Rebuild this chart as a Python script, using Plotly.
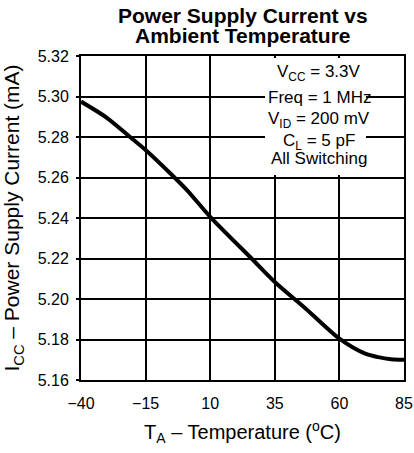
import plotly.graph_objects as go

# Data
temperature_c = [-40, -30, -21, -15, -5, 1, 10, 26, 35, 47, 60, 70, 75, 80, 85]
supply_current_ma = [5.2975, 5.2895, 5.2800, 5.2736, 5.2615, 5.2538, 5.2406, 5.2200,
                     5.2084, 5.1952, 5.1804, 5.1730, 5.1713, 5.1703, 5.1700]

x_ticks = [-40, -15, 10, 35, 60, 85]
y_ticks = [5.16, 5.18, 5.20, 5.22, 5.24, 5.26, 5.28, 5.30, 5.32]

title_lines = ["Power Supply Current vs", "Ambient Temperature"]
cond_lines = ["V<sub>CC</sub> = 3.3V", "Freq = 1 MHz", "V<sub>ID</sub> = 200 mV",
              "C<sub>L</sub> = 5 pF", "All Switching"]

FONT = "Liberation Sans, Arial, sans-serif"

fig = go.Figure()
fig.add_trace(go.Scatter(
    x=temperature_c, y=supply_current_ma, mode="lines",
    line=dict(color="black", width=4, shape="spline", smoothing=0.8),
    hoverinfo="skip", showlegend=False))

W, H = 414, 453
ml, mr, mt, mb = 81, 10, 56, 73
ph = H - mt - mb
pw = W - ml - mr

def py(pix):
    return (H - mb - pix) / ph

def px(pix):
    return (pix - ml) / pw

annotations = []
for txt, yp in zip(title_lines, [16, 35.5]):
    annotations.append(dict(text="<b>%s</b>" % txt, x=0.5, y=py(yp), xref="paper", yref="paper",
                            showarrow=False, xanchor="center", yanchor="middle",
                            font=dict(family=FONT, size=21, color="black")))
for txt, yp in zip(cond_lines, [73, 97.5, 120, 142, 158.5]):
    annotations.append(dict(text=txt, x=px(319), y=py(yp), xref="paper", yref="paper",
                            showarrow=False, xanchor="center", yanchor="middle",
                            font=dict(family=FONT, size=17, color="black")))

fig.update_layout(
    width=W, height=H,
    margin=dict(l=ml, r=mr, t=mt, b=mb, pad=0, autoexpand=False),
    paper_bgcolor="white", plot_bgcolor="white",
    annotations=annotations,
    shapes=[dict(type="rect", xref="paper", yref="paper",
                 x0=px(265), x1=px(366), y0=py(175), y1=0.994,
                 fillcolor="white", line=dict(width=0), layer="above")],
    xaxis=dict(range=[-40, 85], tickvals=x_ticks, ticktext=[("\u2212%d" % -v) if v < 0 else str(v) for v in x_ticks],
               showgrid=True, gridcolor="black", gridwidth=1.5, automargin=False,
               showline=True, linecolor="black", linewidth=2, mirror=True,
               ticks="", zeroline=False, ticklabelstandoff=8,
               tickfont=dict(family=FONT, size=16, color="black"),
               title=dict(text="T<sub>A</sub> \u2013 Temperature (<sup>o</sup>C)", standoff=14,
                          font=dict(family=FONT, size=20, color="black"))),
    yaxis=dict(range=[5.16, 5.32], tickvals=y_ticks, tickformat=".2f",
               showgrid=True, gridcolor="black", gridwidth=1.5, automargin=False,
               showline=True, linecolor="black", linewidth=2, mirror=True,
               ticks="outside", ticklen=3, tickcolor="black", tickwidth=1.5,
               zeroline=False, ticklabelstandoff=4,
               tickfont=dict(family=FONT, size=16, color="black"),
               title=dict(text="I<sub>CC</sub> \u2013 Power Supply Current (mA)", standoff=12,
                          font=dict(family=FONT, size=21, color="black"))),
)

fig.write_html("out.html", config={"displayModeBar": False},
               post_script="document.body.style.margin='0';document.body.style.overflow='hidden';")
